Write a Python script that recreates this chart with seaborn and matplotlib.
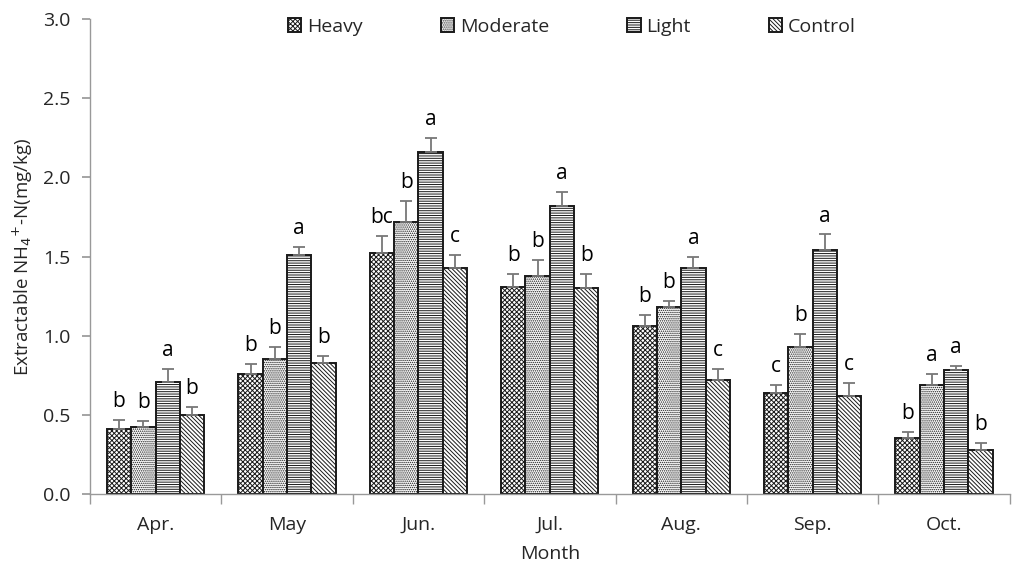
"""
Extractable NH4+-N by month and grazing treatment, grouped bar chart.

Writes: out.png
"""

import matplotlib.pyplot as plt
import numpy as np
import pandas as pd
import seaborn as sns

MONTHS = ["Apr.", "May", "Jun.", "Jul.", "Aug.", "Sep.", "Oct."]
GROUPS = ["Heavy", "Moderate", "Light", "Control"]

HEAVY = [0.41, 0.76, 1.52, 1.31, 1.06, 0.64, 0.35]
MODERATE = [0.42, 0.85, 1.72, 1.38, 1.18, 0.93, 0.69]
LIGHT = [0.71, 1.51, 2.16, 1.82, 1.43, 1.54, 0.78]
CONTROL = [0.50, 0.83, 1.43, 1.30, 0.72, 0.62, 0.28]

HEAVY_ERR = [0.06, 0.06, 0.11, 0.08, 0.07, 0.05, 0.04]
MODERATE_ERR = [0.04, 0.08, 0.13, 0.10, 0.04, 0.08, 0.07]
LIGHT_ERR = [0.08, 0.05, 0.09, 0.09, 0.07, 0.10, 0.03]
CONTROL_ERR = [0.05, 0.04, 0.08, 0.09, 0.07, 0.08, 0.04]

HEAVY_SIG = ["b", "b", "bc", "b", "b", "c", "b"]
MODERATE_SIG = ["b", "b", "b", "b", "b", "b", "a"]
LIGHT_SIG = ["a", "a", "a", "a", "a", "a", "a"]
CONTROL_SIG = ["b", "b", "c", "b", "c", "c", "b"]

# hatch pattern and hatch colour per treatment
HATCHES = ["xxxxxxx", "........", "-------", "\\\\\\\\\\\\\\\\"]
HATCH_COLORS = ["#858585", "#a8a8a8", "#555555", "#707070"]

sns.set_theme(style="white")
plt.rcParams["font.family"] = ["Open Sans", "DejaVu Sans"]
plt.rcParams["hatch.linewidth"] = 0.7

FS = 14


def main() -> None:
    means = [HEAVY, MODERATE, LIGHT, CONTROL]
    errs = [HEAVY_ERR, MODERATE_ERR, LIGHT_ERR, CONTROL_ERR]
    sigs = [HEAVY_SIG, MODERATE_SIG, LIGHT_SIG, CONTROL_SIG]

    rows = []
    for g, vals in zip(GROUPS, means):
        for m, v in zip(MONTHS, vals):
            rows.append({"Month": m, "Treatment": g, "value": v})
    df = pd.DataFrame(rows)

    fig = plt.figure(figsize=(10.21, 5.67), dpi=100)
    ax = fig.add_axes([0.088, 0.129, 0.901, 0.837])

    sns.barplot(data=df, x="Month", y="value", hue="Treatment",
                order=MONTHS, hue_order=GROUPS, width=0.74, gap=0,
                palette=["white"] * 4, errorbar=None,
                saturation=1, legend=False, ax=ax)

    bar_groups = list(ax.containers)
    for cont, hatch, hc, err, sig in zip(bar_groups, HATCHES, HATCH_COLORS,
                                         errs, sigs):
        for bar, e, s in zip(cont.patches, err, sig):
            bar.set_hatch(hatch)
            bar.set_edgecolor("#1a1a1a")
            if hasattr(bar, "set_hatchcolor"):
                bar.set_hatchcolor(hc)
            bar.set_linewidth(1.4)
            x = bar.get_x() + bar.get_width() / 2
            h = bar.get_height()
            ax.errorbar(x, h, yerr=[[0], [e]], color="#777777", lw=1.3,
                        capsize=4, capthick=1.3, zorder=1)
            ax.text(x, h + e + 0.05, s, ha="center", va="bottom",
                    fontsize=FS + 1, color="black")

    ax.set_ylim(0, 3.0)
    ax.set_xlim(-0.5, len(MONTHS) - 0.5)
    ticks = np.arange(0, 3.01, 0.5)
    ax.set_yticks(ticks)
    ax.set_yticklabels([f"{v:.1f}" for v in ticks])
    ax.set_xticks(np.arange(-0.5, len(MONTHS)), minor=True)
    ax.tick_params(axis="x", which="major", length=0, labelsize=FS, pad=16)
    ax.tick_params(axis="x", which="minor", length=7, color="#999999",
                   direction="out", bottom=True)
    ax.tick_params(axis="y", length=6, color="#999999", direction="out",
                   left=True, labelsize=FS, pad=8)
    for side in ["top", "right"]:
        ax.spines[side].set_visible(False)
    for side in ["left", "bottom"]:
        ax.spines[side].set_color("#999999")
        ax.spines[side].set_linewidth(1)

    ax.set_xlabel("Month", fontsize=FS, labelpad=8)
    ax.set_ylabel("Extractable NH$_4$$^{+}$-N(mg/kg)", fontsize=FS - 0.5,
                  labelpad=6)

    handles = [c.patches[0] for c in bar_groups]
    ax.legend(handles, GROUPS, loc="upper center", bbox_to_anchor=(0.524, 1.04),
              ncol=4, frameon=False, fontsize=FS, handlelength=0.7,
              handleheight=0.7, handletextpad=0.3, columnspacing=4.0)

    fig.savefig("out.png", dpi=100)


if __name__ == "__main__":
    main()
